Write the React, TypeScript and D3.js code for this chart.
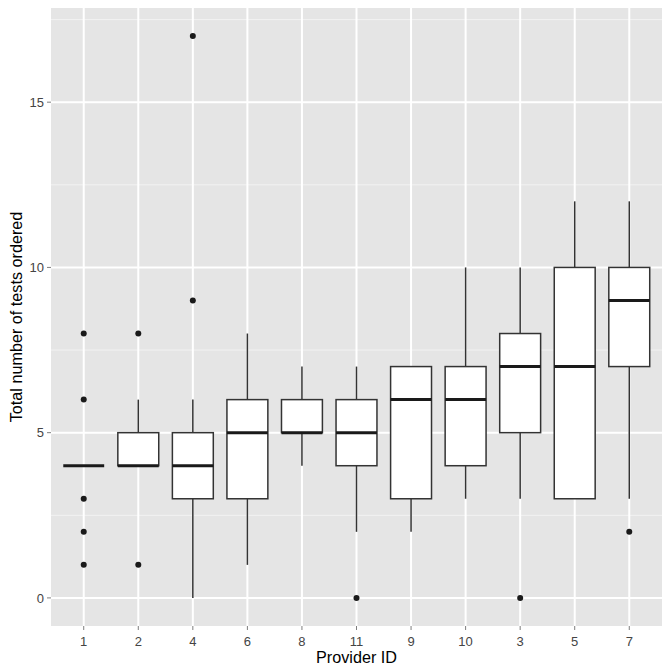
import React from "react";
import * as d3 from "d3";

const categories = ["1", "2", "4", "6", "8", "11", "9", "10", "3", "5", "7"];
const q1 = [4, 4, 3, 3, 5, 4, 3, 4, 5, 3, 7];
const medians = [4, 4, 4, 5, 5, 5, 6, 6, 7, 7, 9];
const q3 = [4, 5, 5, 6, 6, 6, 7, 7, 8, 10, 10];
const whiskerLow = [4, 4, 0, 1, 4, 2, 2, 3, 3, 3, 3];
const whiskerHigh = [4, 6, 6, 8, 7, 7, 7, 10, 10, 12, 12];
const outliers: number[][] = [[8, 6, 3, 2, 1], [8, 1], [17, 9], [], [], [0], [], [], [0], [], [2]];
const yTicks = [0, 5, 10, 15];
const yMinor = [2.5, 7.5, 12.5, 17.5];

export default function App() {
  const W = 672, H = 672;
  const left = 51, right = 662, top = 8, bottom = 626;
  const y = d3.scaleLinear().domain([-0.85, 17.85]).range([bottom, top]);
  // ggplot discrete scale: expansion 0.6 units each side
  const x = d3.scalePoint().domain(categories).range([left, right]).padding(0.6);
  const unit = x.step();
  const cx = (i: number) => x(categories[i]) as number;
  const bw = unit * 0.75;
  const font = "'Liberation Sans', Arial, Helvetica, sans-serif";
  return (
    <svg width={W} height={H} style={{ position: "absolute", left: 0, top: 0 }}>
      <rect x={0} y={0} width={W} height={H} fill="#ffffff" />
      <rect x={left} y={top} width={right - left} height={bottom - top} fill="#E5E5E5" />
      {yMinor.map((t) => (
        <line key={"m" + t} x1={left} x2={right} y1={y(t)} y2={y(t)} stroke="#F2F2F2" strokeWidth={1} />
      ))}
      {yTicks.map((t) => (
        <line key={"g" + t} x1={left} x2={right} y1={y(t)} y2={y(t)} stroke="#ffffff" strokeWidth={2} />
      ))}
      {categories.map((c, i) => (
        <line key={"v" + c} x1={cx(i)} x2={cx(i)} y1={top} y2={bottom} stroke="#ffffff" strokeWidth={2} />
      ))}
      {categories.map((c, i) => (
        <g key={"b" + c}>
          <line x1={cx(i)} x2={cx(i)} y1={y(q3[i])} y2={y(whiskerHigh[i])} stroke="#333333" strokeWidth={1.5} />
          <line x1={cx(i)} x2={cx(i)} y1={y(q1[i])} y2={y(whiskerLow[i])} stroke="#333333" strokeWidth={1.5} />
          <rect x={cx(i) - bw / 2} y={y(q3[i])} width={bw} height={y(q1[i]) - y(q3[i])} fill="#ffffff" stroke="#333333" strokeWidth={1.5} />
          <line x1={cx(i) - bw / 2} x2={cx(i) + bw / 2} y1={y(medians[i])} y2={y(medians[i])} stroke="#1a1a1a" strokeWidth={3} />
          {outliers[i].map((o, j) => (
            <circle key={j} cx={cx(i)} cy={y(o)} r={3} fill="#1a1a1a" />
          ))}
        </g>
      ))}
      {yTicks.map((t) => (
        <g key={"yt" + t}>
          <line x1={left - 4} x2={left} y1={y(t)} y2={y(t)} stroke="#7F7F7F" strokeWidth={1} />
          <text x={left - 7} y={y(t)} dy="0.36em" textAnchor="end" fontFamily={font} fontSize={13} fill="#444444">{t}</text>
        </g>
      ))}
      {categories.map((c, i) => (
        <g key={"xt" + c}>
          <line x1={cx(i)} x2={cx(i)} y1={bottom} y2={bottom + 4} stroke="#7F7F7F" strokeWidth={1} />
          <text x={cx(i)} y={646} textAnchor="middle" fontFamily={font} fontSize={13} fill="#444444">{c}</text>
        </g>
      ))}
      <text x={(left + right) / 2} y={663} textAnchor="middle" fontFamily={font} fontSize={16.2} fill="#000">Provider ID</text>
      <text transform={`translate(22,${(top + bottom) / 2}) rotate(-90)`} textAnchor="middle" fontFamily={font} fontSize={16.2} fill="#000">Total number of tests ordered</text>
    </svg>
  );
}
